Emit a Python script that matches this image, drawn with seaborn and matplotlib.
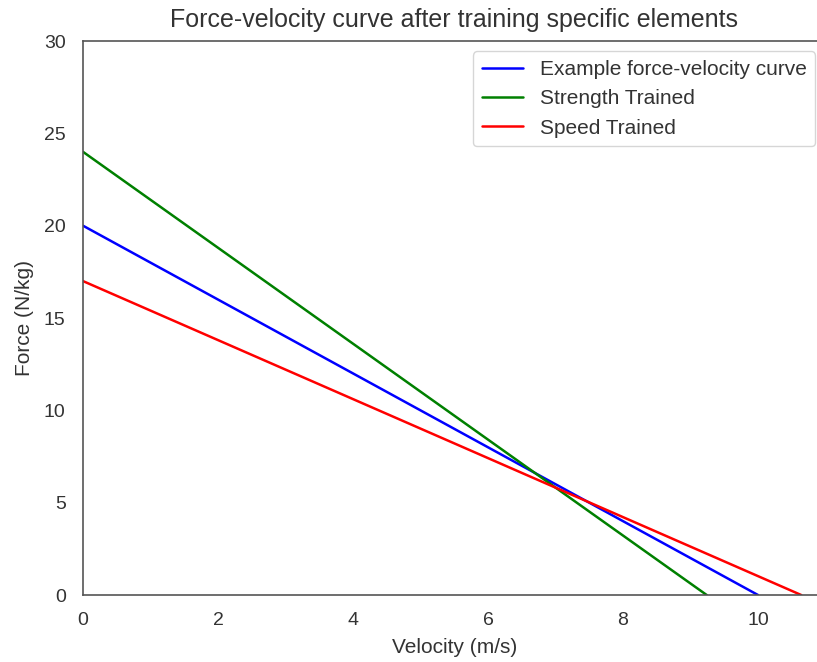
import matplotlib
matplotlib.use("Agg")
import matplotlib.pyplot as plt
import seaborn as sns
import pandas as pd

velocity_example = [0, 10]
force_example = [20, 0]
velocity_strength = [0, 9.24]
force_strength = [24, 0]
velocity_speed = [0, 10.64]
force_speed = [17, 0]
labels = ["Example force-velocity curve", "Strength Trained", "Speed Trained"]
colors = ["blue", "green", "red"]

sns.set_style("white")
plt.rcParams['font.family'] = ['Liberation Sans', 'DejaVu Sans']

fig = plt.figure(figsize=(8.17, 6.62), dpi=100)
ax = fig.add_axes([0.1016, 0.1012, 0.9088, 0.8368])

data = [(velocity_example, force_example), (velocity_strength, force_strength), (velocity_speed, force_speed)]
for (v, f), lab, c in zip(data, labels, colors):
    df = pd.DataFrame({"v": v, "f": f})
    sns.lineplot(data=df, x="v", y="f", color=c, label=lab, ax=ax, linewidth=1.8)

ax.set_xlim(0, 11)
ax.set_ylim(0, 30)
ax.set_xticks([0, 2, 4, 6, 8, 10])
ax.set_yticks([0, 5, 10, 15, 20, 25, 30])
ax.tick_params(labelsize=14, colors='#333333', pad=9)
ax.set_xlabel("Velocity (m/s)", fontsize=15, color='#333333', labelpad=6)
ax.set_ylabel("Force (N/kg)", fontsize=15, color='#333333', labelpad=7)
ax.set_title("Force-velocity curve after training specific elements", fontsize=18, color='#333333', pad=10)
for s in ax.spines.values():
    s.set_color('#555555')
    s.set_linewidth(1.2)
leg = ax.legend(loc='upper right', fontsize=15, frameon=True)
for t in leg.get_texts():
    t.set_color('#333333')

fig.savefig("out.png", dpi=100)
